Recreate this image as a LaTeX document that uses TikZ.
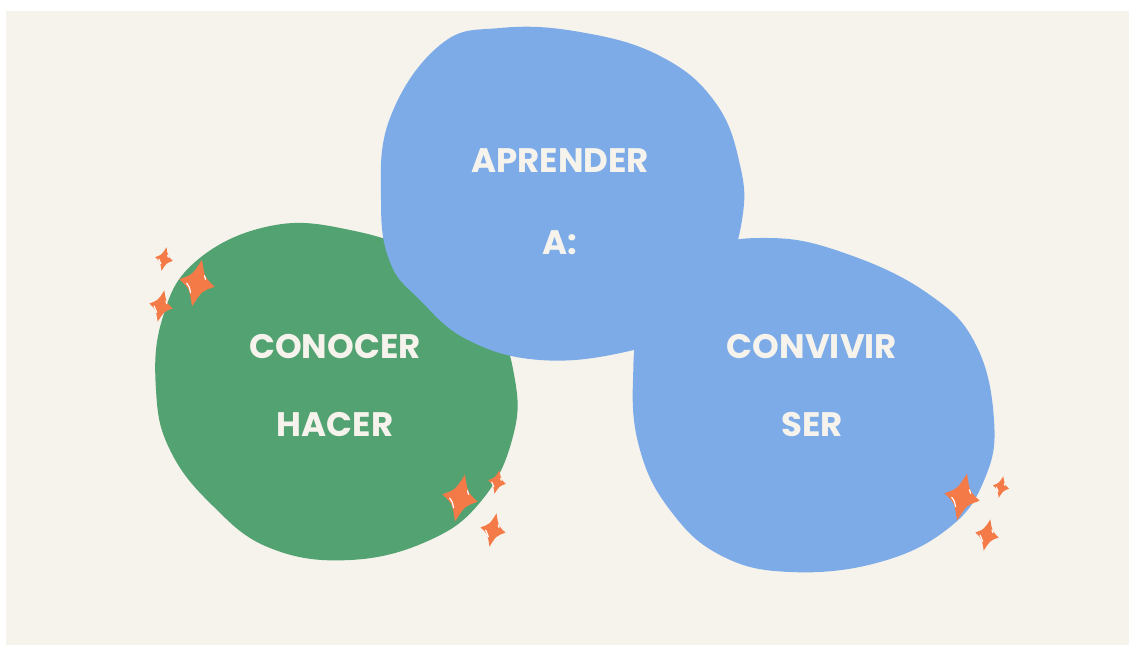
\documentclass[tikz,border=0pt]{standalone}
\usepackage{fontspec}
\usepackage{tikz}
\usetikzlibrary{positioning}

\newfontfamily\blobfont{Poppins}

\definecolor{paper}{HTML}{F6F3EC}
\definecolor{leafgreen}{HTML}{53A272}
\definecolor{skyblue}{HTML}{7DABE8}
\definecolor{sparkorange}{HTML}{F47A48}

\begin{document}
\begin{tikzpicture}[
    x=0.5pt, y=-0.5pt,
    blob/.style={line width=0pt},
    word/.style={text=paper, font=\blobfont\bfseries\fontsize{17}{19}\selectfont, inner sep=0pt},
    sparkle/.pic={
        \fill[sparkorange] (0,-1) .. controls (0.26,-0.3) .. (0.75,0)
            .. controls (0.26,0.3) .. (0,1)
            .. controls (-0.26,0.3) .. (-0.75,0)
            .. controls (-0.26,-0.3) .. cycle;
        \draw[white, line width=0.6pt, line cap=round]
            (-0.42,0.1) .. controls (-0.28,0.22) .. (-0.18,0.45);
        \draw[white, line width=0.6pt, line cap=round]
            (0.24,-0.36) -- (0.32,-0.22);
    }
]
    % Page
    \clip (0,0) rectangle (1129,644);
    \fill[white] (0,0) rectangle (1129,644);
    \fill[paper] (6,11) rectangle (1140,660);

    % Blobs
    \fill[leafgreen, blob] plot[smooth cycle, tension=0.7] coordinates {
        (270,226) (350,230) (425,258) (490,315) (515,380) (512,440)
        (482,500) (430,540) (350,560) (270,548) (212,505) (170,450)
        (156,390) (162,320) (195,262)};
    \fill[skyblue, blob] plot[smooth cycle, tension=0.7] coordinates {
        (440,45) (500,28) (580,32) (660,56) (715,102) (740,165) (742,220)
        (722,280) (685,328) (625,352) (540,360) (468,340) (420,300)
        (390,262) (381,200) (390,118)};
    \fill[skyblue, blob] plot[smooth cycle, tension=0.7] coordinates {
        (700,254) (770,238) (850,255) (930,295) (976,345) (994,420)
        (985,478) (950,527) (880,562) (790,572) (720,555) (670,510)
        (640,450) (633,380) (645,318)};

    % Sparkles
    \pic[rotate=-12, scale=12] at (164,259) {sparkle};
    \pic[rotate=-12, scale=24] at (197,283) {sparkle};
    \pic[rotate=-12, scale=16] at (161,306) {sparkle};
    \pic[rotate=-12, scale=24] at (460,498) {sparkle};
    \pic[rotate=-12, scale=12] at (497,482) {sparkle};
    \pic[rotate=-12, scale=17] at (493,530) {sparkle};
    \pic[rotate=-12, scale=24] at (962,497) {sparkle};
    \pic[rotate=-12, scale=11] at (1001,487) {sparkle};
    \pic[rotate=-12, scale=16] at (987,535) {sparkle};

    % Labels
    \node[word] (aprender) at (560,161) {APRENDER};
    \node[word] (a) at (560,243) {A:};
    \node[word] (conocer) at (335,347) {CONOCER};
    \node[word] (hacer) at (335,425) {HACER};
    \node[word] (convivir) at (812,347) {CONVIVIR};
    \node[word] (ser) at (812,425) {SER};
\end{tikzpicture}
\end{document}
